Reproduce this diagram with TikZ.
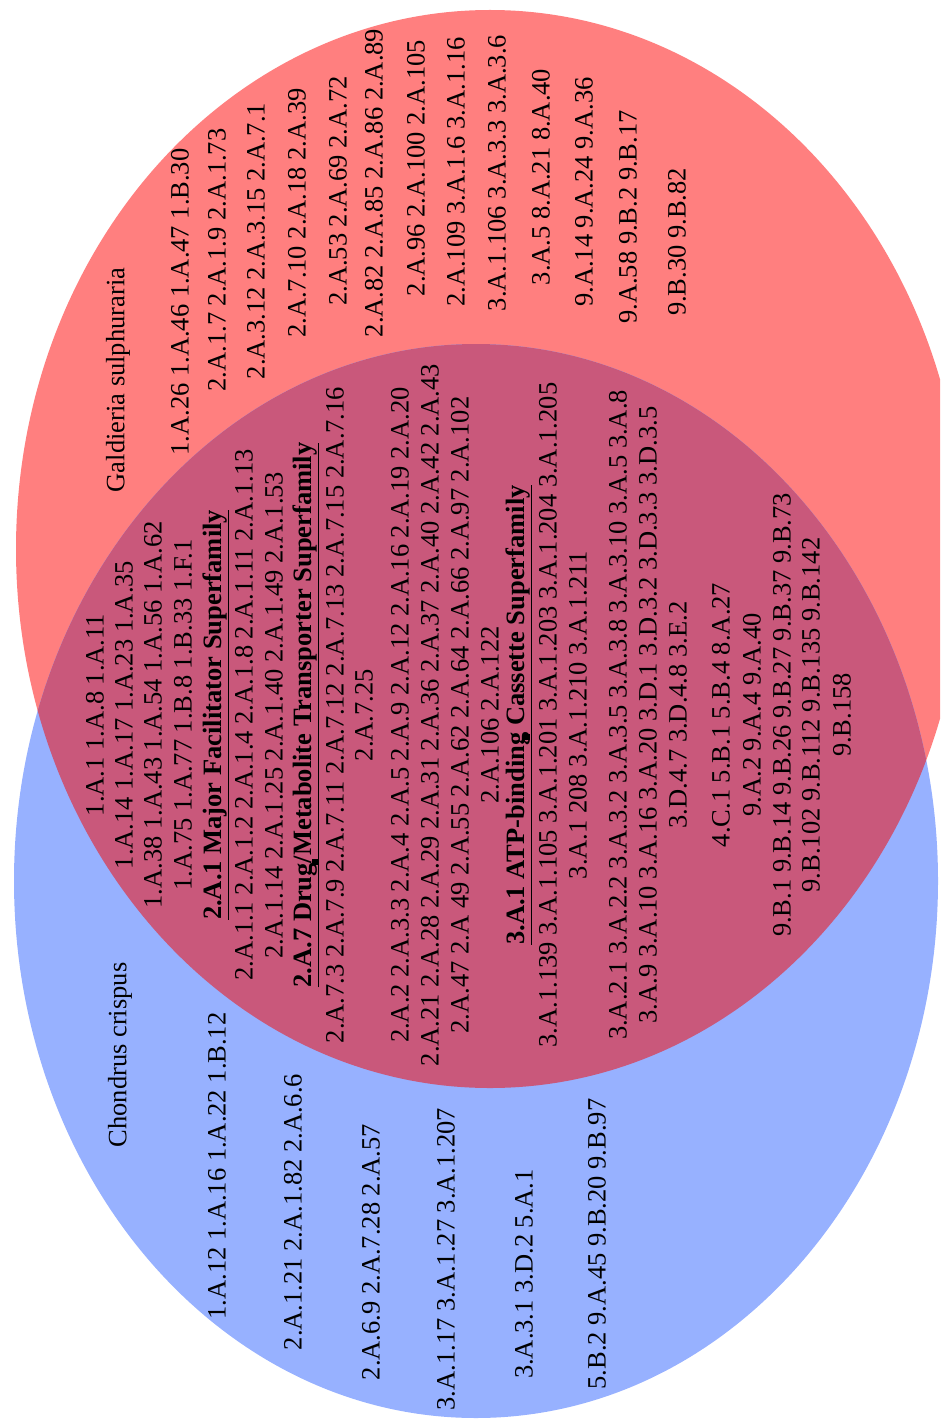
\documentclass[tikz,border=0pt]{standalone}
\usepackage{fontspec}
\setmainfont{Liberation Serif}
\definecolor{galcol}{HTML}{FF7F7F}
\definecolor{chocol}{HTML}{97B1FF}
\definecolor{bothcol}{HTML}{C9587B}
\begin{document}
\begin{tikzpicture}[x=1pt,y=-1pt,
  lbl/.style={rotate=90,anchor=center,inner sep=0pt,font=\fontsize{26.5pt}{28pt}\selectfont},
  hd/.style={lbl,font=\fontsize{26.5pt}{28pt}\selectfont\bfseries},
  blob/.style={fill=black,minimum size=6pt,inner sep=0pt}]
\useasboundingbox (0,0) rectangle (940,1423);
\clip (0,0) rectangle (940,1423);
% sets
\fill[galcol] (490,549) ellipse [x radius=474pt, y radius=539pt];
\fill[chocol] (476,881) ellipse [x radius=462pt, y radius=537pt];
\begin{scope}
  \clip (490,549) ellipse [x radius=474pt, y radius=539pt];
  \fill[bothcol] (476,881) ellipse [x radius=462pt, y radius=537pt];
\end{scope}
% Galdieria only
\node[lbl] (gt) at (118,380) {Galdieria sulphuraria};
\node[lbl] (g1) at (180,302) {1.A.26 1.A.46 1.A.47 1.B.30};
\node[lbl] (g2) at (217,260) {2.A.1.7 2.A.1.9 2.A.1.73};
\node[lbl] (g3) at (256,241) {2.A.3.12 2.A.3.15 2.A.7.1};
\node[lbl] (g4) at (297,213) {2.A.7.10 2.A.18 2.A.39};
\node[lbl] (g5) at (338,191) {2.A.53 2.A.69 2.A.72};
\node[lbl] (g6) at (374,183) {2.A.82 2.A.85 2.A.86 2.A.89};
\node[lbl] (g7) at (416,168) {2.A.96 2.A.100 2.A.105};
\node[lbl] (g8) at (456,172) {2.A.109 3.A.1.6 3.A.1.16};
\node[lbl] (g9) at (497,173) {3.A.1.106 3.A.3.3 3.A.3.6};
\node[lbl] (g10) at (541,177) {3.A.5 8.A.21 8.A.40};
\node[lbl] (g11) at (584,192) {9.A.14 9.A.24 9.A.36};
\node[lbl] (g12) at (628,217) {9.A.58 9.B.2 9.B.17};
\node[lbl] (g13) at (677,242) {9.B.30 9.B.82};
% Chondrus only
\node[lbl] (ct) at (120,1055) {Chondrus crispus};
\node[lbl] (c1) at (217,1166) {1.A.12 1.A.16 1.A.22 1.B.12};
\node[lbl] (c2) at (293,1212) {2.A.1.21 2.A.1.82 2.A.6.6};
\node[lbl] (c3) at (371,1252) {2.A.6.9 2.A.7.28 2.A.57};
\node[lbl] (c4) at (446,1259) {3.A.1.17 3.A.1.27 3.A.1.207};
\node[lbl] (c5) at (524,1274) {3.A.3.1 3.D.2 5.A.1};
\node[lbl] (c6) at (597,1244) {5.B.2 9.A.45 9.B.20 9.B.97};
% shared
\node[lbl] (i1) at (95,715) {1.A.1 1.A.8 1.A.11};
\node[lbl] (i2) at (124,715) {1.A.14 1.A.17 1.A.23 1.A.35};
\node[lbl] (i3) at (153,715) {1.A.38 1.A.43 1.A.54 1.A.56 1.A.62};
\node[lbl] (i4) at (183,715) {1.A.75 1.A.77 1.B.8 1.B.33 1.F.1};
\node[hd] (h1) at (216,715) {\underline{2.A.1 Major Facilitator Superfamily}};
\node[lbl] (i5) at (244,715) {2.A.1.1 2.A.1.2 2.A.1.4 2.A.1.8 2.A.1.11 2.A.1.13};
\node[lbl] (i6) at (274,715) {2.A.1.14 2.A.1.25 2.A.1.40 2.A.1.49 2.A.1.53};
\node[hd] (h2) at (306,715) {\underline{2.A.7 Drug/Metabolite Transporter Superfamily}};
\node[lbl] (i7) at (335,715) {2.A.7.3 2.A.7.9 2.A.7.11 2.A.7.12 2.A.7.13 2.A.7.15 2.A.7.16};
\node[lbl] (i8) at (364,715) {2.A.7.25};
\node[lbl] (i9) at (400,715) {2.A.2 2.A.3.3 2.A.4 2.A.5 2.A.9 2.A.12 2.A.16 2.A.19 2.A.20};
\node[lbl] (i10) at (430,715) {2.A.21 2.A.28 2.A.29 2.A.31 2.A.36 2.A.37 2.A.40 2.A.42 2.A.43};
\node[lbl] (i11) at (460,715) {2.A.47 2.A 49 2.A.55 2.A.62 2.A.64 2.A.66 2.A.97 2.A.102};
\node[lbl] (i12) at (490,715) {2.A.106 2.A.122};
\node[hd] (h3) at (519,715) {\underline{3.A.1 ATP-binding Cassette Superfamily}};
\node[lbl] (i13) at (548,715) {3.A.1.139 3.A.1.105 3.A.1.201 3.A.1.203 3.A.1.204 3.A.1.205};
\node[lbl] (i14) at (578,715) {3.A.1 208 3.A.1.210 3.A.1.211};
\node[lbl] (i15) at (618,715) {3.A.2.1 3.A.2.2 3.A.3.2 3.A.3.5 3.A.3.8 3.A.3.10 3.A.5 3.A.8};
\node[lbl] (i16) at (648,715) {3.A.9 3.A.10 3.A.16 3.A.20 3.D.1 3.D.3.2 3.D.3.3 3.D.3.5};
\node[lbl] (i17) at (678,715) {3.D.4.7 3.D.4.8 3.E.2};
\node[lbl] (i18) at (721,715) {4.C.1 5.B.1 5.B.4 8.A.27};
\node[lbl] (i19) at (752,715) {9.A.2 9.A.4 9.A.40};
\node[lbl] (i20) at (782,715) {9.B.1 9.B.14 9.B.26 9.B.27 9.B.37 9.B.73};
\node[lbl] (i21) at (811,715) {9.B.102 9.B.112 9.B.135 9.B.142};
\node[lbl] (i22) at (842,715) {9.B.158};
% small marks on underlines
\node[blob] (m1) at (315,862) {};
\node[blob] (m2) at (527,737) {};
\end{tikzpicture}
\end{document}
